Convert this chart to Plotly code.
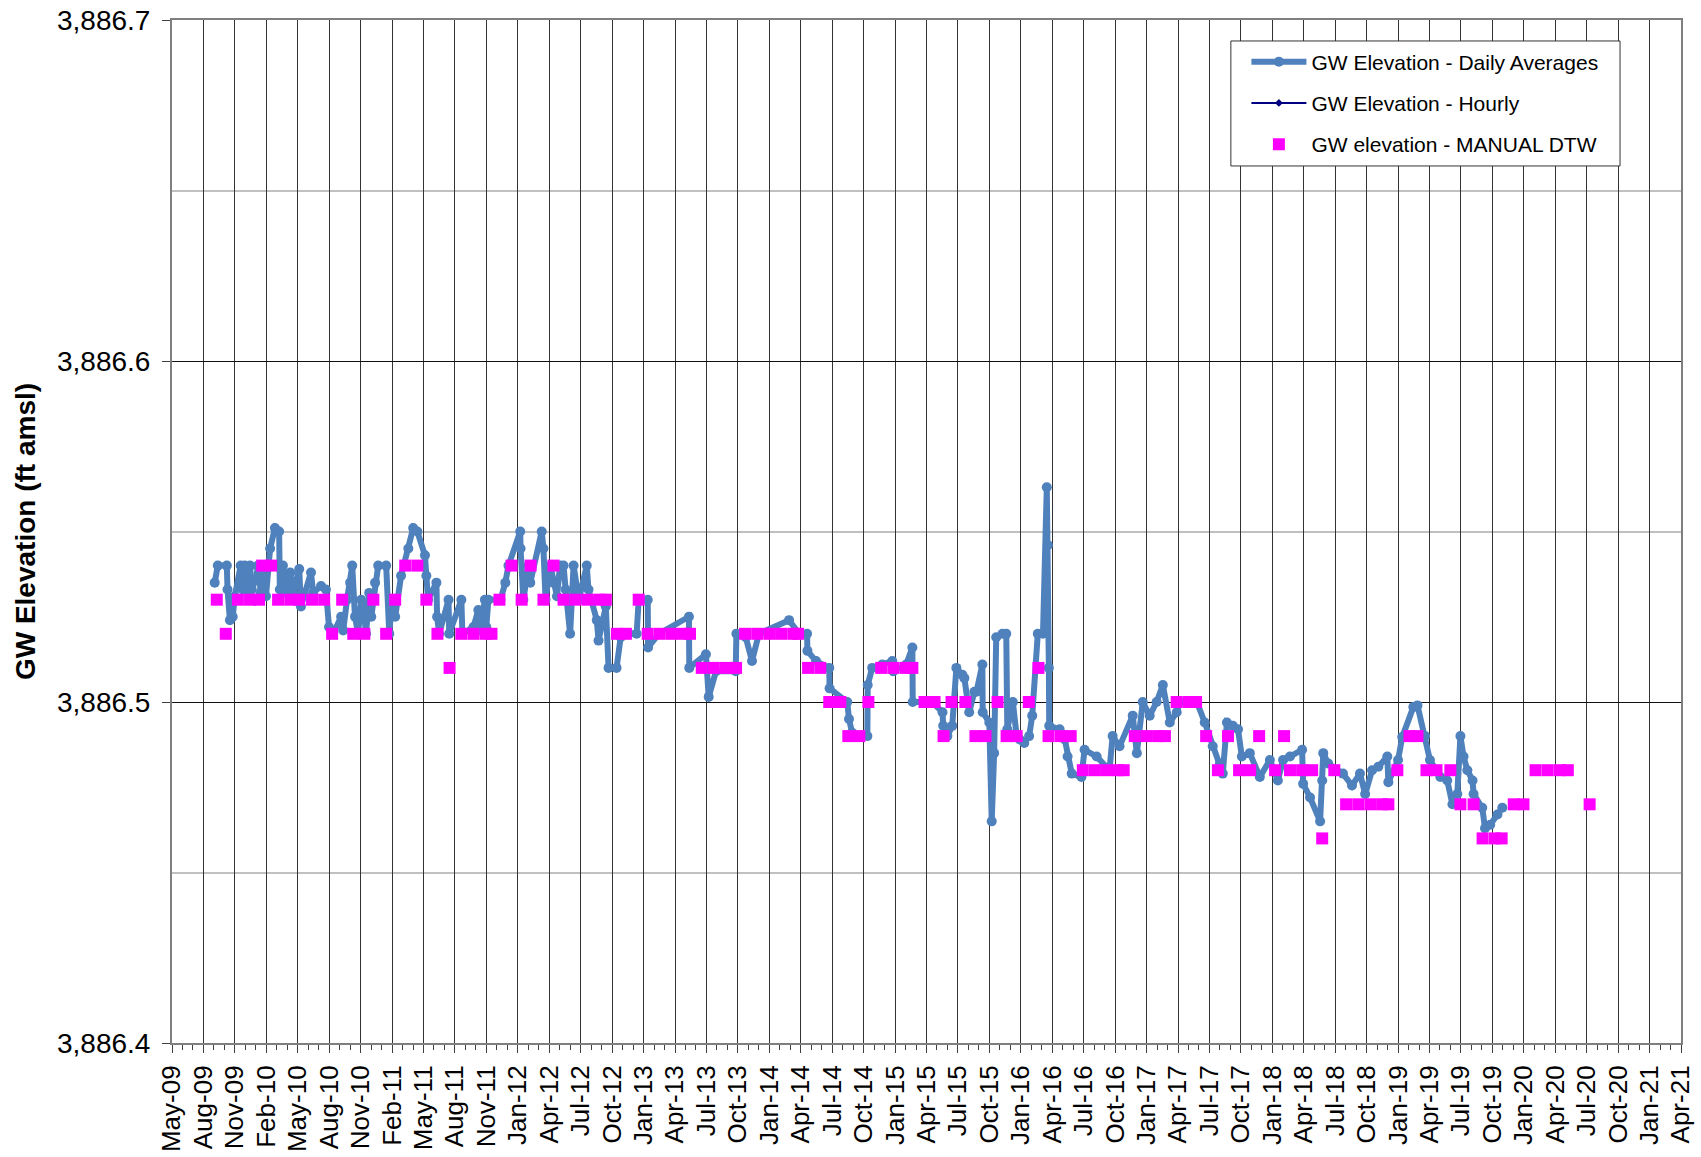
import plotly.graph_objects as go

# ---------------- data ----------------
daily_dates = [
    "2009-09-08", "2009-09-17", "2009-10-13", "2009-10-15", "2009-10-22", "2009-10-30",
    "2009-11-05", "2009-11-22", "2009-11-28", "2009-12-04", "2009-12-10", "2009-12-19",
    "2009-12-24", "2010-01-05", "2010-01-11", "2010-01-19", "2010-01-28", "2010-02-03",
    "2010-02-15", "2010-03-01", "2010-03-13", "2010-03-15", "2010-03-24", "2010-04-02",
    "2010-04-14", "2010-04-22", "2010-05-10", "2010-05-15", "2010-06-13", "2010-06-19",
    "2010-07-12", "2010-07-26", "2010-08-04", "2010-08-16", "2010-09-08", "2010-09-14",
    "2010-09-25", "2010-10-04", "2010-10-10", "2010-10-18", "2010-10-27", "2010-11-05",
    "2010-11-11", "2010-11-19", "2010-11-28", "2010-12-04", "2010-12-15", "2010-12-24",
    "2011-01-16", "2011-01-25", "2011-02-02", "2011-02-11", "2011-02-28", "2011-03-21",
    "2011-04-04", "2011-04-16", "2011-05-08", "2011-05-12", "2011-05-17", "2011-06-10",
    "2011-06-12", "2011-06-18", "2011-07-15", "2011-07-17", "2011-08-21", "2011-08-24",
    "2011-09-25", "2011-10-09", "2011-10-15", "2011-10-28", "2011-11-01", "2011-11-07",
    "2011-12-12", "2011-12-26", "2012-01-04", "2012-02-07", "2012-02-08", "2012-02-16",
    "2012-03-02", "2012-03-07", "2012-04-09", "2012-04-14", "2012-04-20", "2012-05-04",
    "2012-05-13", "2012-05-23", "2012-06-01", "2012-06-11", "2012-06-17", "2012-06-30",
    "2012-07-10", "2012-07-25", "2012-08-17", "2012-08-22", "2012-09-15", "2012-09-20",
    "2012-10-11", "2012-10-19", "2012-11-11", "2012-11-23", "2012-12-16", "2013-01-08",
    "2013-01-14", "2013-02-09", "2013-02-10", "2013-03-13", "2013-06-08", "2013-06-09",
    "2013-07-27", "2013-08-04", "2013-08-25", "2013-10-21", "2013-10-23", "2013-11-19",
    "2013-12-07", "2013-12-27", "2014-03-24", "2014-04-22", "2014-05-15", "2014-05-16",
    "2014-06-10", "2014-07-18", "2014-07-19", "2014-09-08", "2014-09-13", "2014-09-22",
    "2014-11-05", "2014-11-06", "2014-11-19", "2014-12-18", "2015-01-16", "2015-01-19",
    "2015-02-25", "2015-03-15", "2015-03-16", "2015-05-11", "2015-06-10", "2015-06-12",
    "2015-06-24", "2015-07-08", "2015-07-20", "2015-08-06", "2015-08-12", "2015-08-26",
    "2015-09-10", "2015-09-16", "2015-10-03", "2015-10-04", "2015-10-23", "2015-10-30",
    "2015-11-06", "2015-11-12", "2015-11-30", "2015-12-11", "2015-12-14", "2015-12-30",
    "2016-01-10", "2016-01-19", "2016-02-01", "2016-02-15", "2016-02-24", "2016-03-11",
    "2016-03-26", "2016-04-06", "2016-04-09", "2016-04-12", "2016-04-13", "2016-05-13",
    "2016-05-28", "2016-06-05", "2016-06-17", "2016-07-15", "2016-07-24", "2016-08-28",
    "2016-10-04", "2016-10-13", "2016-11-02", "2016-12-10", "2016-12-22", "2017-01-08",
    "2017-01-28", "2017-02-17", "2017-03-07", "2017-03-27", "2017-04-16", "2017-04-25",
    "2017-06-13", "2017-07-06", "2017-07-29", "2017-08-19", "2017-08-27", "2017-09-08",
    "2017-09-25", "2017-10-10", "2017-10-21", "2017-11-13", "2017-12-12", "2018-01-10",
    "2018-02-02", "2018-02-17", "2018-03-09", "2018-04-13", "2018-04-16", "2018-05-06",
    "2018-06-04", "2018-06-10", "2018-06-13", "2018-06-27", "2018-08-09", "2018-09-04",
    "2018-09-27", "2018-10-12", "2018-11-01", "2018-11-19", "2018-12-15", "2018-12-18",
    "2019-01-15", "2019-01-27", "2019-02-28", "2019-03-12", "2019-04-03", "2019-04-17",
    "2019-05-17", "2019-06-06", "2019-06-21", "2019-07-05", "2019-07-14", "2019-07-23",
    "2019-08-03", "2019-08-18", "2019-08-21", "2019-09-15", "2019-09-23", "2019-10-08",
    "2019-10-29", "2019-11-12",
]
daily_elev = [
    3886.535, 3886.540, 3886.540, 3886.533, 3886.524, 3886.525,
    3886.531, 3886.540, 3886.533, 3886.540, 3886.533, 3886.540,
    3886.533, 3886.536, 3886.540, 3886.532, 3886.540, 3886.531,
    3886.545, 3886.551, 3886.550, 3886.533, 3886.540, 3886.532,
    3886.538, 3886.532, 3886.539, 3886.528, 3886.538, 3886.532,
    3886.534, 3886.533, 3886.522, 3886.520, 3886.525, 3886.521,
    3886.530, 3886.535, 3886.540, 3886.525, 3886.520, 3886.530,
    3886.528, 3886.520, 3886.532, 3886.525, 3886.535, 3886.540,
    3886.540, 3886.520, 3886.530, 3886.525, 3886.537, 3886.545,
    3886.551, 3886.550, 3886.543, 3886.537, 3886.530, 3886.535,
    3886.525, 3886.520, 3886.530, 3886.520, 3886.530, 3886.520,
    3886.522, 3886.527, 3886.521, 3886.530, 3886.522, 3886.530,
    3886.530, 3886.535, 3886.540, 3886.550, 3886.545, 3886.530,
    3886.540, 3886.535, 3886.550, 3886.545, 3886.530, 3886.540,
    3886.535, 3886.531, 3886.540, 3886.540, 3886.533, 3886.520,
    3886.540, 3886.530, 3886.540, 3886.533, 3886.524, 3886.518,
    3886.528, 3886.510, 3886.510, 3886.519, 3886.520, 3886.520,
    3886.530, 3886.530, 3886.516, 3886.520, 3886.525, 3886.510,
    3886.514, 3886.5015, 3886.509, 3886.509, 3886.520, 3886.519,
    3886.512, 3886.520, 3886.524, 3886.520, 3886.520, 3886.515,
    3886.512, 3886.510, 3886.504, 3886.500, 3886.495, 3886.491,
    3886.490, 3886.505, 3886.510, 3886.511, 3886.512, 3886.509,
    3886.511, 3886.516, 3886.500, 3886.500, 3886.497, 3886.493,
    3886.490, 3886.493, 3886.510, 3886.508, 3886.507, 3886.497,
    3886.503, 3886.503, 3886.511, 3886.497, 3886.494, 3886.465,
    3886.485, 3886.519, 3886.520, 3886.520, 3886.492, 3886.500,
    3886.490, 3886.489, 3886.488, 3886.490, 3886.496, 3886.520,
    3886.520, 3886.563, 3886.546, 3886.510, 3886.493, 3886.492,
    3886.489, 3886.484, 3886.479, 3886.478, 3886.486, 3886.484,
    3886.480, 3886.490, 3886.487, 3886.496, 3886.485, 3886.500,
    3886.496, 3886.500, 3886.505, 3886.494, 3886.497, 3886.500,
    3886.500, 3886.494, 3886.487, 3886.482, 3886.479, 3886.494,
    3886.493, 3886.492, 3886.484, 3886.485, 3886.478, 3886.483,
    3886.477, 3886.483, 3886.484, 3886.486, 3886.476, 3886.472,
    3886.465, 3886.477, 3886.485, 3886.482, 3886.479, 3886.4755,
    3886.479, 3886.473, 3886.480, 3886.481, 3886.484, 3886.4765,
    3886.483, 3886.4897, 3886.4985, 3886.499, 3886.490, 3886.483,
    3886.478, 3886.477, 3886.470, 3886.473, 3886.490, 3886.484,
    3886.480, 3886.477, 3886.473, 3886.469, 3886.463, 3886.464,
    3886.467, 3886.469,
]

hourly_dates = []
hourly_elev = []

manual_dates = [
    "2009-09-14", "2009-10-10", "2009-11-14", "2009-12-19", "2010-01-14", "2010-01-23",
    "2010-02-18", "2010-03-10", "2010-04-14", "2010-05-10", "2010-06-16", "2010-07-21",
    "2010-08-13", "2010-09-11", "2010-10-13", "2010-11-14", "2010-12-10", "2011-01-16",
    "2011-02-11", "2011-03-12", "2011-04-16", "2011-05-12", "2011-06-13", "2011-07-18",
    "2011-08-21", "2011-09-25", "2011-10-30", "2011-11-16", "2011-12-09", "2012-01-13",
    "2012-02-11", "2012-03-08", "2012-04-14", "2012-05-13", "2012-06-11", "2012-07-16",
    "2012-08-20", "2012-09-23", "2012-10-11", "2012-11-12", "2012-12-08", "2013-01-14",
    "2013-02-09", "2013-03-16", "2013-04-20", "2013-05-24", "2013-06-11", "2013-07-15",
    "2013-08-19", "2013-09-23", "2013-10-22", "2013-11-17", "2013-12-22", "2014-01-26",
    "2014-03-01", "2014-04-05", "2014-04-19", "2014-05-18", "2014-06-22", "2014-07-18",
    "2014-08-19", "2014-09-11", "2014-10-13", "2014-11-08", "2014-12-15", "2015-01-19",
    "2015-02-23", "2015-03-15", "2015-04-19", "2015-05-18", "2015-06-13", "2015-07-06",
    "2015-08-15", "2015-09-13", "2015-10-12", "2015-11-16", "2015-12-12", "2016-01-10",
    "2016-02-14", "2016-03-13", "2016-04-11", "2016-05-16", "2016-06-14", "2016-07-19",
    "2016-08-23", "2016-09-26", "2016-10-28", "2016-11-14", "2016-12-16", "2017-01-20",
    "2017-02-23", "2017-03-13", "2017-04-16", "2017-05-21", "2017-06-11", "2017-07-10",
    "2017-08-13", "2017-09-11", "2017-10-13", "2017-11-14", "2017-12-10", "2018-01-25",
    "2018-02-20", "2018-03-09", "2018-04-13", "2018-05-12", "2018-06-10", "2018-07-15",
    "2018-08-18", "2018-09-22", "2018-10-27", "2018-11-30", "2018-12-18", "2019-01-13",
    "2019-02-17", "2019-03-12", "2019-04-07", "2019-05-06", "2019-06-15", "2019-07-14",
    "2019-08-21", "2019-09-16", "2019-10-21", "2019-11-10", "2019-12-15", "2020-01-12",
    "2020-02-16", "2020-03-22", "2020-04-26", "2020-05-19", "2020-07-21",
]
manual_elev = [
    3886.53, 3886.52, 3886.53, 3886.53, 3886.53, 3886.54,
    3886.54, 3886.53, 3886.53, 3886.53, 3886.53, 3886.53,
    3886.52, 3886.53, 3886.52, 3886.52, 3886.53, 3886.52,
    3886.53, 3886.54, 3886.54, 3886.53, 3886.52, 3886.51,
    3886.52, 3886.52, 3886.52, 3886.52, 3886.53, 3886.54,
    3886.53, 3886.54, 3886.53, 3886.54, 3886.53, 3886.53,
    3886.53, 3886.53, 3886.53, 3886.52, 3886.52, 3886.53,
    3886.52, 3886.52, 3886.52, 3886.52, 3886.52, 3886.51,
    3886.51, 3886.51, 3886.51, 3886.52, 3886.52, 3886.52,
    3886.52, 3886.52, 3886.52, 3886.51, 3886.51, 3886.50,
    3886.50, 3886.49, 3886.49, 3886.50, 3886.51, 3886.51,
    3886.51, 3886.51, 3886.50, 3886.50, 3886.49, 3886.50,
    3886.50, 3886.49, 3886.49, 3886.50, 3886.49, 3886.49,
    3886.50, 3886.51, 3886.49, 3886.49, 3886.49, 3886.48,
    3886.48, 3886.48, 3886.48, 3886.48, 3886.49, 3886.49,
    3886.49, 3886.49, 3886.50, 3886.50, 3886.50, 3886.49,
    3886.48, 3886.49, 3886.48, 3886.48, 3886.49, 3886.48,
    3886.49, 3886.48, 3886.48, 3886.48, 3886.46, 3886.48,
    3886.47, 3886.47, 3886.47, 3886.47, 3886.47, 3886.48,
    3886.49, 3886.49, 3886.48, 3886.48, 3886.48, 3886.47,
    3886.47, 3886.46, 3886.46, 3886.46, 3886.47, 3886.47,
    3886.48, 3886.48, 3886.48, 3886.48, 3886.47,
]

legend_names = ["GW Elevation - Daily Averages", "GW Elevation - Hourly", "GW elevation - MANUAL DTW"]

# axis settings (Excel-style date axis: fixed day step between major ticks)
x_start = "2009-05-07 18:00"
x_end = "2021-04-10 18:00"
tick_step_days = 90.75
y_min, y_max = 3886.4, 3886.7

FONT = "Liberation Sans, Arial, sans-serif"
DAY_MS = 86400000

fig = go.Figure()
fig.add_trace(go.Scatter(
    x=daily_dates, y=daily_elev, mode="lines+markers",
    name=legend_names[0], legendgroup="a",
    line=dict(color="#4F81BD", width=6),
    marker=dict(color="#4F81BD", size=10, symbol="circle"),
))
fig.add_trace(go.Scatter(
    x=hourly_dates if hourly_dates else [None], y=hourly_elev if hourly_elev else [None],
    mode="lines+markers", name=legend_names[1], legendgroup="b",
    line=dict(color="#000080", width=2),
    marker=dict(color="#000080", size=6, symbol="diamond"),
))
fig.add_trace(go.Scatter(
    x=manual_dates, y=manual_elev, mode="markers",
    name=legend_names[2], legendgroup="c",
    marker=dict(color="#FF00FF", size=12, symbol="square", line=dict(width=0)),
))

# legend frame
fig.add_shape(type="rect", xref="paper", yref="paper",
              x0=0.7017, x1=0.9596, y0=0.8573, y1=0.9795,
              line=dict(color="#333333", width=1), fillcolor="white", layer="above")

fig.update_layout(
    width=1701, height=1157,
    margin=dict(l=172, r=20, t=20, b=114),
    paper_bgcolor="white", plot_bgcolor="white",
    font=dict(family=FONT, color="black"),
    showlegend=True,
    legend=dict(
        x=0.712, y=0.979, xanchor="left", yanchor="top",
        bgcolor="rgba(0,0,0,0)", borderwidth=0,
        font=dict(size=21, family=FONT), tracegroupgap=11,
        traceorder="grouped", itemwidth=55,
    ),
    xaxis=dict(
        type="date", range=[x_start, x_end], automargin=False,
        tick0=x_start, dtick=tick_step_days * DAY_MS, tickformat="%b-%y",
        tickangle=-90, tickfont=dict(size=26, family=FONT),
        ticks="outside", ticklen=8, tickcolor="#404040", ticklabelstandoff=2,
        showgrid=True, gridcolor="#333333", gridwidth=1,
        showline=True, linecolor="#7f7f7f", linewidth=2, mirror=True,
        zeroline=False,
        minor=dict(tick0=x_start, dtick=tick_step_days * DAY_MS / 3,
                   ticks="outside", ticklen=5, tickcolor="#404040", showgrid=False),
    ),
    yaxis=dict(
        range=[y_min, y_max], dtick=0.1, tick0=y_min, tickformat=",.1f", automargin=False,
        tickfont=dict(size=28, family=FONT),
        ticks="outside", ticklen=8, tickcolor="#404040", ticklabelstandoff=6,
        showgrid=True, gridcolor="#111111", gridwidth=1,
        showline=True, linecolor="#7f7f7f", linewidth=2, mirror=True,
        zeroline=False,
        minor=dict(dtick=0.05, showgrid=True, gridcolor="#c0c0c0", gridwidth=2, ticks=""),
        title=dict(text="<b>GW Elevation (ft amsl)</b>", font=dict(size=28, family=FONT), standoff=13),
    ),
)

fig.write_html("out.html", config={"displayModeBar": False},
               post_script="document.body.style.margin='0px';")
